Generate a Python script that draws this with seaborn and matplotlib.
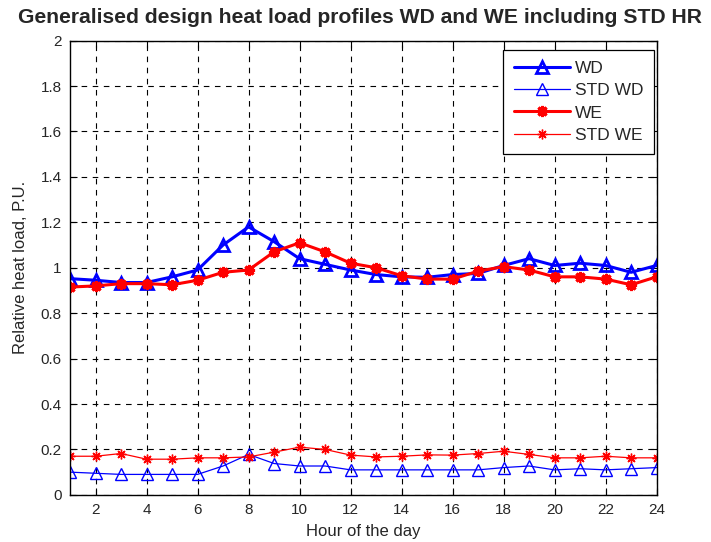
"""
Generalised design heat load profiles for weekdays (WD) and weekends (WE),
with their standard deviations, drawn in a MATLAB-like style.
"""
import numpy as np
import seaborn as sns
import matplotlib
matplotlib.use("Agg")
import matplotlib.pyplot as plt


HOURS = list(range(1, 25))

WD = [0.952, 0.945, 0.935, 0.935, 0.96, 0.99, 1.10, 1.18, 1.115, 1.04,
      1.015, 0.99, 0.97, 0.96, 0.958, 0.97, 0.975, 1.01, 1.04, 1.01,
      1.02, 1.01, 0.98, 1.01]
STD_WD = [0.10, 0.095, 0.09, 0.09, 0.09, 0.09, 0.127, 0.178, 0.138, 0.127,
          0.127, 0.11, 0.11, 0.11, 0.11, 0.11, 0.11, 0.12, 0.127, 0.11,
          0.115, 0.11, 0.115, 0.12]
WE = [0.915, 0.92, 0.93, 0.93, 0.925, 0.945, 0.98, 0.99, 1.07, 1.11,
      1.07, 1.02, 1.0, 0.965, 0.95, 0.95, 0.985, 1.005, 0.99, 0.96,
      0.96, 0.95, 0.925, 0.96]
STD_WE = [0.17, 0.17, 0.182, 0.157, 0.157, 0.163, 0.163, 0.167, 0.188, 0.21,
          0.2, 0.175, 0.167, 0.17, 0.176, 0.175, 0.182, 0.192, 0.178, 0.163,
          0.163, 0.17, 0.163, 0.163]

OUT = "out.png"


def draw_profiles():
    """
    Plots the four profiles on one axes and saves the figure to out.png.
    """
    sns.set_style("white")
    plt.rcParams["font.family"] = ["Liberation Sans", "DejaVu Sans"]

    fig = plt.figure(figsize=(7.11, 5.42), dpi=100)
    ax = fig.add_axes([0.0985, 0.087, 0.825, 0.838])

    star = (8, 2, 0)
    sns.lineplot(x=HOURS, y=WD, ax=ax, color="blue", lw=2.2, marker="^",
                 ms=9, mfc="none", mec="blue", mew=2, label="WD")
    sns.lineplot(x=HOURS, y=STD_WD, ax=ax, color="blue", lw=0.9,
                 marker="^", ms=9, mfc="none", mec="blue", mew=1,
                 label="STD WD")
    sns.lineplot(x=HOURS, y=WE, ax=ax, color="red", lw=2.2, marker=star,
                 ms=8, mec="red", mew=2.2, label="WE")
    sns.lineplot(x=HOURS, y=STD_WE, ax=ax, color="red", lw=0.9,
                 marker=star, ms=7, mec="red", mew=1, label="STD WE")

    ax.set_xlim(1, 24)
    ax.set_ylim(0, 2)
    ax.set_xticks(np.arange(2, 25, 2))
    ax.set_yticks(np.arange(0, 2.01, 0.2))
    ax.set_yticklabels(["0", "0.2", "0.4", "0.6", "0.8", "1", "1.2",
                        "1.4", "1.6", "1.8", "2"])
    ax.tick_params(direction="in", length=5, labelsize=11, color="black",
                   top=True, right=True, bottom=True, left=True)
    ax.tick_params(axis="x", pad=6)
    ax.tick_params(axis="y", pad=6)
    ax.grid(True, color="black", linestyle=(0, (5, 5)), linewidth=0.8)
    for s in ax.spines.values():
        s.set_color("black")
        s.set_linewidth(1.0)
        s.set_visible(True)

    ax.set_xlabel("Hour of the day", fontsize=12, labelpad=5)
    ax.set_ylabel("Relative heat load, P.U.", fontsize=12, labelpad=9)
    fig.text(0.507, 0.958, "Generalised design heat load profiles WD and WE "
             "including STD HR", fontsize=15.2, fontweight="bold",
             ha="center", va="baseline")

    leg = ax.legend(loc="upper right", fontsize=12.5, frameon=True,
                    fancybox=False, edgecolor="black", framealpha=1,
                    handlelength=3.2, borderpad=0.62, labelspacing=0.42,
                    handletextpad=0.3, borderaxespad=0,
                    bbox_to_anchor=(0.996, 0.98))
    leg.get_frame().set_linewidth(0.9)

    fig.savefig(OUT, dpi=100)


def main():
    draw_profiles()


if __name__ == "__main__":
    main()
